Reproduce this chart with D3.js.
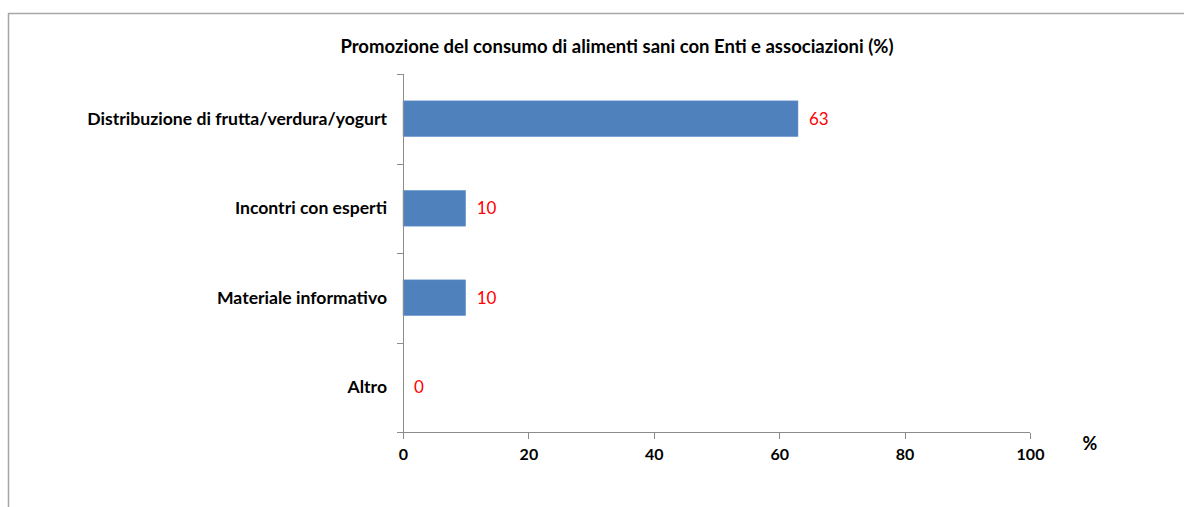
<html>
<script src="https://d3js.org/d3.v7.min.js"></script>
<style>
body { margin: 0; background: #fff; font-family: Lato, "Open Sans", Arial, sans-serif; }
.axis path, .axis line { stroke: #8c8c8c; stroke-width: 1; shape-rendering: crispEdges; }
</style>
<body>
<svg id="chart"></svg>
<script>
// chart data
var categories = ["Distribuzione di frutta/verdura/yogurt", "Incontri con esperti", "Materiale informativo", "Altro"];
var values = [63, 10, 10, 0];
var xTicks = [0, 20, 40, 60, 80, 100];
var title = "Promozione del consumo di alimenti sani con Enti e associazioni (%)";

const width = 1184, height = 507;
const svg = d3.select("#chart").attr("width", width).attr("height", height);

// outer frame (only top and left visible)
svg.append("rect")
    .attr("x", 8.5).attr("y", 13.5)
    .attr("width", 1200).attr("height", 520)
    .attr("fill", "none").attr("stroke", "#a6a6a6").attr("stroke-width", 1.5);

const plotLeft = 403, plotRight = 1030, plotTop = 74, plotBottom = 432;

const x = d3.scaleLinear().domain([0, 100]).range([plotLeft, plotRight]);
const y = d3.scaleBand().domain(categories).range([plotTop, plotBottom]).paddingInner(0.6).paddingOuter(0.3);
const yEdge = d3.scaleLinear().domain([0, categories.length]).range([plotTop, plotBottom]);

svg.append("text")
    .attr("x", 617).attr("y", 53)
    .attr("text-anchor", "middle")
    .style("font-size", "18.5px").style("font-weight", "bold")
    .text(title);

// bars
svg.selectAll(".bar")
    .data(values)
    .enter()
    .append("rect")
    .attr("x", x(0))
    .attr("y", function(d, i) { return y(categories[i]); })
    .attr("width", function(d) { return x(d) - x(0); })
    .attr("height", y.bandwidth())
    .attr("fill", "#4f81bd")
    .attr("stroke", "#6f9bd0").attr("stroke-width", 0.5);

// value labels
svg.selectAll(".val")
    .data(values)
    .enter()
    .append("text")
    .attr("x", function(d) { return x(d) + 11; })
    .attr("y", function(d, i) { return y(categories[i]) + y.bandwidth() / 2; })
    .attr("dy", "0.35em")
    .attr("fill", "#ff0000")
    .style("font-size", "17px")
    .text(function(d) { return d; });

// y axis with ticks between categories
const yAxis = svg.append("g").attr("class", "axis");
yAxis.append("line").attr("x1", plotLeft + 0.5).attr("x2", plotLeft + 0.5).attr("y1", plotTop).attr("y2", plotBottom);
yAxis.selectAll(".tk")
    .data(d3.range(categories.length + 1))
    .enter()
    .append("line")
    .attr("x1", plotLeft - 6).attr("x2", plotLeft)
    .attr("y1", function(d) { return Math.round(yEdge(d)) + 0.5; })
    .attr("y2", function(d) { return Math.round(yEdge(d)) + 0.5; });

svg.selectAll(".cat")
    .data(categories)
    .enter()
    .append("text")
    .attr("x", 387)
    .attr("y", function(d) { return y(d) + y.bandwidth() / 2; })
    .attr("dy", "0.35em")
    .attr("text-anchor", "end")
    .style("font-size", "17.6px").style("font-weight", "bold")
    .text(function(d) { return d; });

// x axis
const xAxis = svg.append("g")
    .attr("class", "axis")
    .attr("transform", "translate(0," + (plotBottom + 0.5) + ")")
    .call(d3.axisBottom(x).tickValues(xTicks).tickSize(6).tickSizeOuter(0).tickPadding(10));
xAxis.select(".domain").attr("d", "M" + (plotLeft - 6) + ",0H" + plotRight);
xAxis.selectAll("text")
    .attr("fill", "#000")
    .style("font-size", "16px").style("font-weight", "bold")
    .style("font-family", "Lato, 'Open Sans', Arial, sans-serif");

svg.append("text")
    .attr("x", 1090).attr("y", 450)
    .attr("text-anchor", "middle")
    .style("font-size", "18px").style("font-weight", "bold")
    .text("%");
</script>
</body>
</html>
